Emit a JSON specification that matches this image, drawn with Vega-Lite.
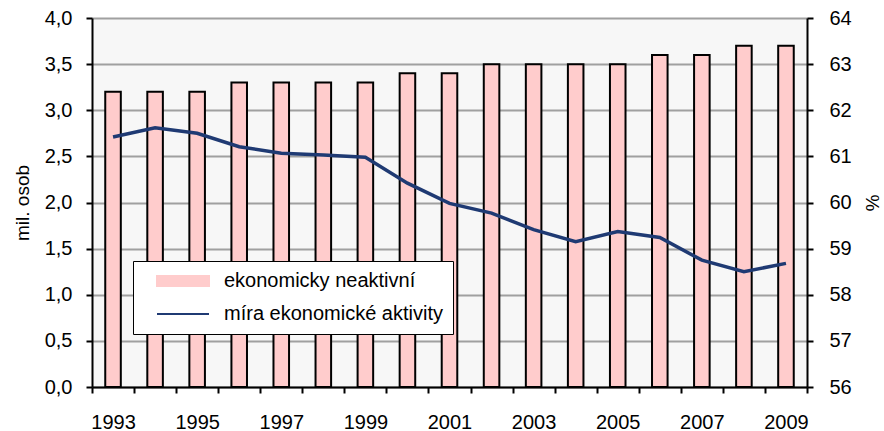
{
  "$schema": "https://vega.github.io/schema/vega-lite/v6.json",
  "width": 715,
  "height": 369,
  "autosize": "none",
  "padding": {"left": 92, "top": 18, "right": 77, "bottom": 44},
  "background": "white",
  "config": {
    "font": "Liberation Sans",
    "view": {"fill": "#f7f7f7", "stroke": null},
    "axis": {
      "labelFont": "Liberation Sans",
      "titleFont": "Liberation Sans",
      "labelColor": "black",
      "titleColor": "black",
      "labelFontSize": 20,
      "titleFontSize": 19,
      "titleFontWeight": "normal",
      "domainColor": "black",
      "domainWidth": 2,
      "tickColor": "black",
      "tickWidth": 2,
      "tickSize": 6
    }
  },
  "data": {
    "values": [
      {"year": 1993, "neaktivni": 3.2, "mira": 61.42},
      {"year": 1994, "neaktivni": 3.2, "mira": 61.62},
      {"year": 1995, "neaktivni": 3.2, "mira": 61.50},
      {"year": 1996, "neaktivni": 3.3, "mira": 61.21},
      {"year": 1997, "neaktivni": 3.3, "mira": 61.07},
      {"year": 1998, "neaktivni": 3.3, "mira": 61.03},
      {"year": 1999, "neaktivni": 3.3, "mira": 60.98},
      {"year": 2000, "neaktivni": 3.4, "mira": 60.42},
      {"year": 2001, "neaktivni": 3.4, "mira": 59.98},
      {"year": 2002, "neaktivni": 3.5, "mira": 59.77},
      {"year": 2003, "neaktivni": 3.5, "mira": 59.41},
      {"year": 2004, "neaktivni": 3.5, "mira": 59.15},
      {"year": 2005, "neaktivni": 3.5, "mira": 59.37},
      {"year": 2006, "neaktivni": 3.6, "mira": 59.24},
      {"year": 2007, "neaktivni": 3.6, "mira": 58.75},
      {"year": 2008, "neaktivni": 3.7, "mira": 58.50},
      {"year": 2009, "neaktivni": 3.7, "mira": 58.68}
    ]
  },
  "layer": [
    {
      "mark": {"type": "bar", "width": {"band": 0.37}, "stroke": "black", "strokeWidth": 2},
      "encoding": {
        "x": {
          "field": "year",
          "type": "ordinal",
          "scale": {"paddingInner": 0, "paddingOuter": 0},
          "axis": {
            "tickBand": "extent",
            "labelExpr": "datum.value % 2 == 1 ? datum.label : ''",
            "labelAngle": 0,
            "labelPadding": 19,
            "labelBaseline": "top",
            "grid": false,
            "title": null
          }
        },
        "y": {
          "field": "neaktivni",
          "type": "quantitative",
          "scale": {"domain": [0, 4], "nice": false},
          "axis": {
            "values": [0, 0.5, 1, 1.5, 2, 2.5, 3, 3.5, 4],
            "labelExpr": "replace(format(datum.value, '.1f'), '.', ',')",
            "title": "mil. osob",
            "grid": true,
            "gridColor": "#a0a0a0",
            "gridWidth": 2,
            "labelPadding": 14,
            "titlePadding": 12
          }
        },
        "color": {
          "datum": "ekonomicky neaktivní",
          "scale": {
            "domain": ["ekonomicky neaktivní", "míra ekonomické aktivity"],
            "range": ["#ffcccc", "#1f3a73"]
          }
        }
      }
    },
    {
      "mark": {"type": "line", "strokeWidth": 3.5},
      "encoding": {
        "x": {"field": "year", "type": "ordinal"},
        "y": {
          "field": "mira",
          "type": "quantitative",
          "scale": {"domain": [56, 64], "nice": false},
          "axis": {
            "orient": "right",
            "values": [56, 57, 58, 59, 60, 61, 62, 63, 64],
            "title": "%",
            "titleAngle": 90,
            "grid": false,
            "labelPadding": 16,
            "titlePadding": 10
          }
        },
        "color": {
          "datum": "míra ekonomické aktivity",
          "legend": {
            "orient": "none",
            "legendX": 41,
            "legendY": 243,
            "title": null,
            "direction": "vertical",
            "symbolSize": 100,
            "labelOffset": 61,
            "labelLimit": 400,
            "padding": 10,
            "rowPadding": 13,
            "labelFont": "Liberation Sans",
            "labelFontSize": 20,
            "labelColor": "black",
            "strokeColor": "black",
            "fillColor": "white",
            "encode": {
              "symbols": {
                "update": {
                  "shape": {"signal": "datum.value === 'ekonomicky neaktivní' ? 'M0.8,-1H11.2V1H0.8Z' : 'M0.8,0H11.2'"},
                  "stroke": {"signal": "datum.value === 'ekonomicky neaktivní' ? 'black' : '#1f3a73'"},
                  "strokeWidth": {"value": 2},
                  "opacity": {"value": 1}
                }
              }
            }
          }
        }
      }
    }
  ],
  "resolve": {"scale": {"y": "independent"}}
}
